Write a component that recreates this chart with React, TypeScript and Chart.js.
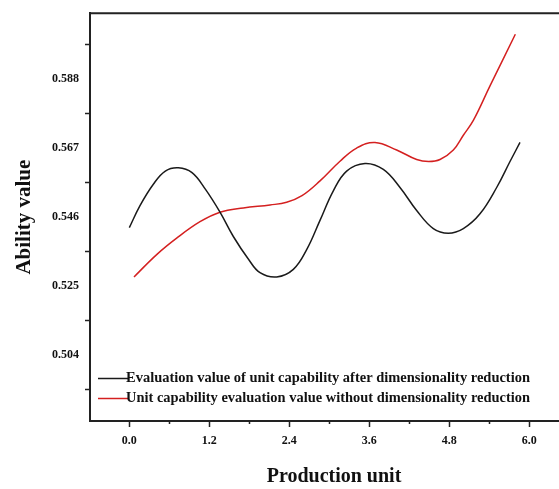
import React, { useEffect, useRef } from 'react';
import { Chart, registerables } from 'chart.js';

Chart.register(...registerables);

const seriesNames = [
  'Evaluation value of unit capability after dimensionality reduction',
  'Unit capability evaluation value without dimensionality reduction',
];
const seriesColors = ['#1a1a1a', '#d42020'];

const reducedX = [0.0, 0.16, 0.36, 0.54, 0.735, 0.94, 1.14, 1.36, 1.56, 1.79, 1.96, 2.21, 2.46, 2.66, 2.86, 3.06, 3.26, 3.535, 3.81, 4.06, 4.31, 4.56, 4.785, 5.01, 5.26, 5.51, 5.71, 5.86];
const reducedY = [0.5427, 0.5494, 0.5559, 0.5599, 0.5609, 0.5594, 0.5544, 0.5474, 0.54, 0.533, 0.529, 0.5277, 0.53, 0.536, 0.5449, 0.5539, 0.5599, 0.5622, 0.5604, 0.5549, 0.5479, 0.5424, 0.541, 0.5424, 0.5469, 0.5549, 0.5628, 0.5686];

const rawX = [0.07, 0.41, 0.71, 1.06, 1.36, 1.71, 2.11, 2.36, 2.59, 2.86, 3.16, 3.41, 3.685, 4.01, 4.31, 4.49, 4.66, 4.86, 5.01, 5.16, 5.41, 5.79];
const rawY = [0.5277, 0.5345, 0.5395, 0.5445, 0.5474, 0.5487, 0.5496, 0.5504, 0.5524, 0.5569, 0.5629, 0.5669, 0.5686, 0.5663, 0.5634, 0.5628, 0.5634, 0.5663, 0.5708, 0.5753, 0.5858, 0.6015];

const xTickValues = [0, 1.2, 2.4, 3.6, 4.8, 6.0];
const xTickLabels = ['0.0', '1.2', '2.4', '3.6', '4.8', '6.0'];
const xMinorTicks = [0.6, 1.8, 3.0, 4.2, 5.4];

const yTickValues = [0.504, 0.525, 0.546, 0.567, 0.588];
const yTickLabels = ['0.504', '0.525', '0.546', '0.567', '0.588'];
const yMarkValues = [0.4935, 0.5145, 0.5355, 0.5565, 0.5775, 0.5985];

const X_MIN = -0.59;
const X_MAX = 6.73;
const Y_MIN = 0.4839;
const Y_MAX = 0.6079;

const FONT = '"Liberation Serif", "Times New Roman", serif';

const findLabel = (v: number) => yTickValues.findIndex((t) => Math.abs(t - v) < 1e-7);

const framePlugin = {
  id: 'frameAndMinor',
  afterDraw(chart: any) {
    const { ctx, chartArea, scales } = chart;
    ctx.save();
    ctx.strokeStyle = '#222';
    ctx.lineWidth = 2;
    ctx.beginPath();
    ctx.moveTo(chartArea.left - 1, chartArea.top);
    ctx.lineTo(chartArea.right, chartArea.top);
    ctx.lineTo(chartArea.right, chartArea.bottom);
    ctx.stroke();
    ctx.lineWidth = 1.5;
    ctx.beginPath();
    xMinorTicks.forEach((v) => {
      const px = Math.round(scales.x.getPixelForValue(v)) + 0.5;
      ctx.moveTo(px, chartArea.bottom);
      ctx.lineTo(px, chartArea.bottom + 3);
    });
    ctx.stroke();
    ctx.restore();
  },
};

const legendPlugin = {
  id: 'innerLegend',
  afterDraw(chart: any) {
    const { ctx, chartArea } = chart;
    ctx.save();
    chart.data.datasets.forEach((ds: any, i: number) => {
      const y = chartArea.bottom - 42.5 + i * 20;
      const x0 = chartArea.left + 8;
      ctx.strokeStyle = ds.borderColor;
      ctx.lineWidth = 1.5;
      ctx.beginPath();
      ctx.moveTo(x0, y);
      ctx.lineTo(x0 + 30, y);
      ctx.stroke();
      ctx.fillStyle = '#111';
      ctx.font = `bold 15px ${FONT}`;
      ctx.textBaseline = 'middle';
      ctx.textAlign = 'left';
      ctx.fillText(ds.label, x0 + 28, y, 404);
    });
    ctx.restore();
  },
};

export default function App() {
  const ref = useRef<HTMLCanvasElement | null>(null);

  useEffect(() => {
    if (!ref.current) return;
    const chart = new Chart(ref.current, {
      type: 'line',
      data: {
        datasets: [
          {
            label: seriesNames[0],
            data: reducedX.map((x, i) => ({ x, y: reducedY[i] })),
            borderColor: seriesColors[0],
            borderWidth: 1.5,
            pointRadius: 0,
            tension: 0.4,
            fill: false,
          },
          {
            label: seriesNames[1],
            data: rawX.map((x, i) => ({ x, y: rawY[i] })),
            borderColor: seriesColors[1],
            borderWidth: 1.5,
            pointRadius: 0,
            tension: 0.4,
            fill: false,
          },
        ],
      },
      options: {
        responsive: false,
        animation: false,
        layout: { padding: { top: 6, left: 0, right: 0, bottom: 0 } },
        plugins: {
          legend: { display: false },
          tooltip: { enabled: false },
        },
        scales: {
          x: {
            type: 'linear',
            min: X_MIN,
            max: X_MAX,
            afterBuildTicks: (s: any) => {
              s.ticks = xTickValues.map((v) => ({ value: v }));
            },
            afterFit: (s: any) => {
              s.height = 68;
            },
            ticks: {
              autoSkip: false,
              maxRotation: 0,
              padding: 7,
              color: '#111',
              font: { family: FONT, size: 12, weight: 'bold' },
              callback: (v: any, i: number) => xTickLabels[i],
            },
            grid: {
              drawOnChartArea: false,
              tickLength: 6,
              tickColor: '#222',
              tickWidth: 1.5,
            },
            border: { display: true, color: '#222', width: 2 },
            title: {
              display: true,
              text: 'Production unit',
              color: '#111',
              font: { family: FONT, size: 20, weight: 'bold' },
              padding: { top: 0, bottom: 0 },
            },
          },
          y: {
            type: 'linear',
            min: Y_MIN,
            max: Y_MAX,
            afterBuildTicks: (s: any) => {
              s.ticks = [...yTickValues, ...yMarkValues]
                .sort((a, b) => a - b)
                .map((v) => ({ value: v }));
            },
            afterFit: (s: any) => {
              s.width = 90;
            },
            ticks: {
              autoSkip: false,
              padding: 6,
              color: '#111',
              font: { family: FONT, size: 12, weight: 'bold' },
              callback: (v: any) => {
                const i = findLabel(Number(v));
                return i >= 0 ? yTickLabels[i] : '';
              },
            },
            grid: {
              drawOnChartArea: false,
              tickLength: 5,
              tickWidth: 1.5,
              tickColor: (c: any) =>
                c.tick && findLabel(c.tick.value) >= 0 ? 'rgba(0,0,0,0)' : '#222',
            },
            border: { display: true, color: '#222', width: 2 },
            title: {
              display: true,
              text: 'Ability value',
              color: '#111',
              font: { family: FONT, size: 21, weight: 'bold' },
              padding: { top: 12, bottom: 0 },
            },
          },
        },
      } as any,
      plugins: [framePlugin, legendPlugin],
    });
    return () => chart.destroy();
  }, []);

  return (
    <div style={{ position: 'fixed', left: 0, top: 0, width: 578, height: 489, background: '#fff' }}>
      <canvas ref={ref} width={578} height={489} style={{ width: 578, height: 489, display: 'block' }} />
    </div>
  );
}
